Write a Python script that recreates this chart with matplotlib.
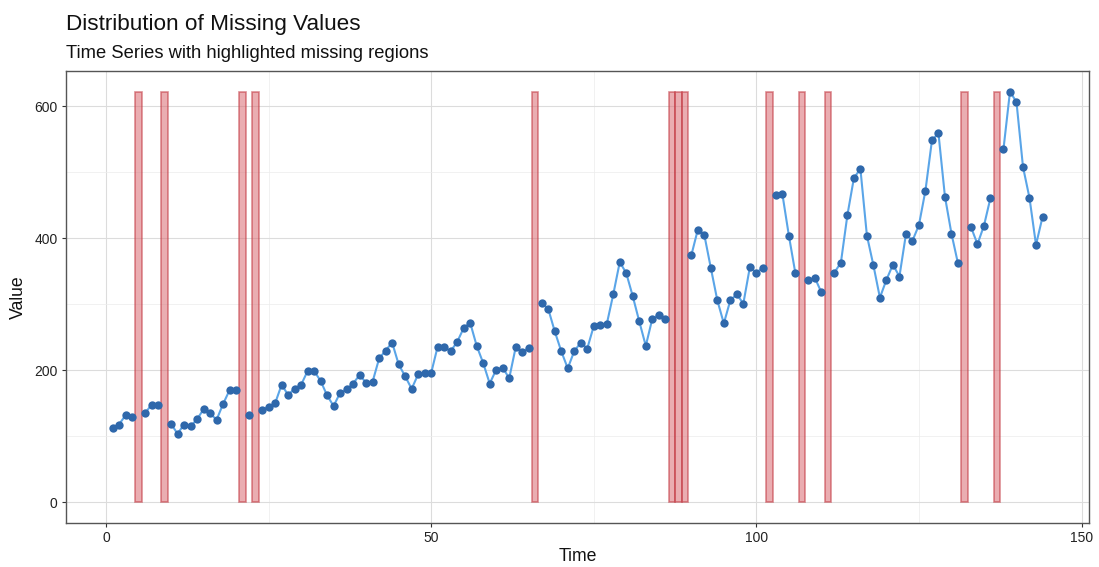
import numpy as np
import matplotlib
matplotlib.use("Agg")
import matplotlib.pyplot as plt

plt.rcParams['font.family'] = ['Liberation Sans', 'DejaVu Sans']

# AirPassengers series (monthly, 144 obs) with gaps
values = [112, 118, 132, 129, 121, 135, 148, 148, 136, 119, 104, 118,
          115, 126, 141, 135, 125, 149, 170, 170, 158, 133, 114, 140,
          145, 150, 178, 163, 172, 178, 199, 199, 184, 162, 146, 166,
          171, 180, 193, 181, 183, 218, 230, 242, 209, 191, 172, 194,
          196, 196, 236, 235, 229, 243, 264, 272, 237, 211, 180, 201,
          204, 188, 235, 227, 234, 264, 302, 293, 259, 229, 203, 229,
          242, 233, 267, 269, 270, 315, 364, 347, 312, 274, 237, 278,
          284, 277, 317, 313, 318, 374, 413, 405, 355, 306, 271, 306,
          315, 301, 356, 348, 355, 422, 465, 467, 404, 347, 305, 336,
          340, 318, 362, 348, 363, 435, 491, 505, 404, 359, 310, 337,
          360, 342, 406, 396, 420, 472, 548, 559, 463, 407, 362, 405,
          417, 391, 419, 461, 472, 535, 622, 606, 508, 461, 390, 432]
missing_idx = [5, 9, 21, 23, 66, 87, 88, 89, 102, 107, 111, 132, 137]
x_ticks = [0, 50, 100, 150]
y_ticks = [0, 200, 400, 600]

time = np.arange(1, len(values) + 1)
vals = np.array(values, dtype=float)
for i in missing_idx:
    vals[i - 1] = np.nan
ymax = np.nanmax(vals)

fig = plt.figure(figsize=(10.99, 5.67), dpi=100)
ax = fig.add_axes([66/1099, 1 - 523/567, (1089-66)/1099, (523-71)/567])

# missing regions
ax.bar(missing_idx, [ymax] * len(missing_idx), width=1.0, bottom=0,
       color='#d96a72', alpha=0.55, edgecolor='#c0303a', linewidth=1.2, zorder=2)
ax.plot(time, vals, color='#5aa5e8', linewidth=1.5, zorder=3)
ax.plot(time, vals, 'o', color='#2f68ab', markersize=6, markeredgewidth=0, zorder=4)

ax.set_xlim(-6.15, 151.15)
ax.set_ylim(-31.1, 653.1)
ax.set_xticks(x_ticks)
ax.set_yticks(y_ticks)
ax.set_xticks([25, 75, 125], minor=True)
ax.set_yticks([100, 300, 500], minor=True)
ax.grid(which='major', color='#dcdcdc', linewidth=0.8, zorder=0)
ax.grid(which='minor', color='#ececec', linewidth=0.5, zorder=0)
ax.set_axisbelow(True)
ax.tick_params(which='minor', length=0)
ax.tick_params(which='major', length=3, width=0.8, color='#333333',
               labelsize=10, labelcolor='#222222', pad=3)
for s in ax.spines.values():
    s.set_color('#555555')
    s.set_linewidth(1.0)

ax.set_xlabel('Time', fontsize=12.7, color='#111111', labelpad=2)
ax.set_ylabel('Value', fontsize=12.7, color='#111111', labelpad=5)

fig.text(66/1099, 1 - 30/567, 'Distribution of Missing Values', fontsize=16.2,
         color='#111111', va='baseline', ha='left')
fig.text(66/1099, 1 - 58/567, 'Time Series with highlighted missing regions',
         fontsize=13.2, color='#111111', va='baseline', ha='left')

fig.savefig('out.png', dpi=100)
